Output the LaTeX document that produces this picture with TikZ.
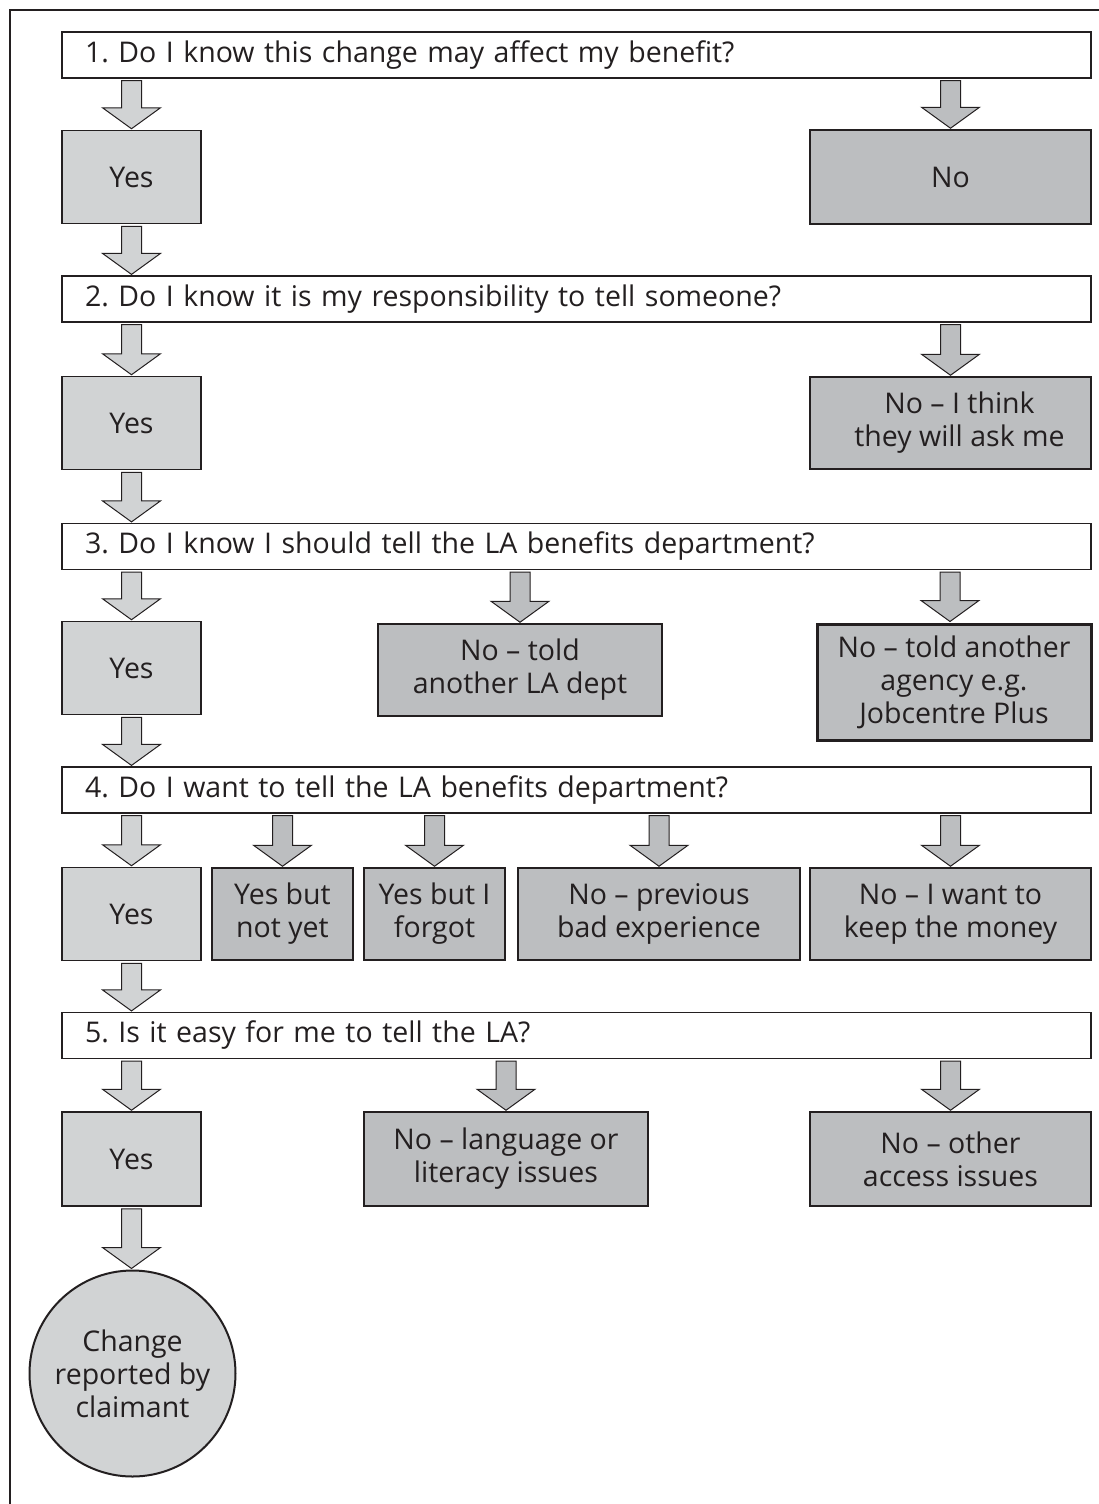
\documentclass[tikz,border=0pt]{standalone}
\usepackage{fontspec}
\setmainfont{Open Sans}
\usetikzlibrary{calc}
\frenchspacing
\definecolor{lightbox}{HTML}{D1D3D4}
\definecolor{darkbox}{HTML}{BCBEC0}
\definecolor{outline}{HTML}{231F20}
\tikzset{
    my-question-box/.style={
        draw=outline, line width=1.2pt, fill=white, minimum width=1029pt, minimum height=46pt,
        text width=983pt, inner xsep=23pt, inner ysep=0pt, align=left
    },
    my-yes-box/.style={
        draw=outline, line width=1.5pt, fill=lightbox, minimum width=139pt, minimum height=93pt,
        align=center, inner sep=0pt
    },
    my-no-box/.style={
        draw=outline, line width=1.5pt, fill=darkbox, minimum height=92pt, align=center, inner sep=0pt
    },
    my-end-circle/.style={
        circle, draw=outline, line width=2pt, fill=lightbox, minimum size=206pt, align=center, inner sep=0pt
    },
    my-arrow-light/.style={
        draw=outline, line width=1pt, fill=lightbox
    },
    my-arrow-dark/.style={
        draw=outline, line width=1pt, fill=darkbox
    },
}
% block arrow from one anchor down to another
\newcommand{\flowarrow}[3][my-arrow-dark]{%
    \path[#1] let \p1=($(#2)+(0,2)$), \p2=($(#3)+(0,-1)$) in
        (\x1-10pt,\y1) -- (\x1+10pt,\y1) -- (\x1+10pt,\y2+21pt) -- (\x1+29pt,\y2+21pt)
        -- (\x1,\y2) -- (\x1-29pt,\y2+21pt) -- (\x1-10pt,\y2+21pt) -- cycle;}

\begin{document}
\begin{tikzpicture}[x=1pt, y=-1pt, font=\fontsize{28.5}{33}\selectfont, text=outline]

        \useasboundingbox (0,0) rectangle (1099,1504);

        % OUTER FRAME
        \draw[outline, line width=2.5pt] (10,1504) -- (10,10) -- (1099,10);

        % QUESTION 1 ----------------------------------------------------------------------------
        \node[my-question-box] (Q1)   at (576.5,55)  {1. Do I know this change may affect my benefit?};
        \node[my-yes-box]      (YES1) at (131.5,177) {Yes};
        \node[my-no-box, minimum width=281pt, minimum height=94pt] (NO1) at (950.5,177) {No};
        \flowarrow[my-arrow-light]{Q1.south -| YES1.north}{YES1.north}
        \flowarrow{Q1.south -| NO1.north}{NO1.north}

        % QUESTION 2 ----------------------------------------------------------------------------
        \node[my-question-box] (Q2)   at (576.5,299) {2. Do I know it is my responsibility to tell someone?};
        \node[my-yes-box]      (YES2) at (131.5,423) {Yes};
        \node[my-no-box, minimum width=281pt] (NO2) at (950.5,423) {\hspace{18pt}No -- I think\\\hspace{18pt}they will ask me};
        \flowarrow[my-arrow-light]{YES1.south}{YES1.south |- Q2.north}
        \flowarrow[my-arrow-light]{Q2.south -| YES2.north}{YES2.north}
        \flowarrow{Q2.south -| NO2.north}{NO2.north}

        % QUESTION 3 ----------------------------------------------------------------------------
        \node[my-question-box] (Q3)     at (576.5,546.5) {3. Do I know I should tell the LA benefits department?};
        \node[my-yes-box]      (YES3)   at (131.5,668)   {Yes};
        \node[my-no-box, minimum width=284pt] (NO3A) at (520,670) {No -- told\\another LA dept};
        \node[my-no-box, minimum width=274pt, minimum height=116pt, line width=3pt] (NO3B) at (954,682)
            {No -- told another\\agency e.g.\\Jobcentre Plus};
        \flowarrow[my-arrow-light]{YES2.south}{YES2.south |- Q3.north}
        \flowarrow[my-arrow-light]{Q3.south -| YES3.north}{YES3.north}
        \flowarrow{Q3.south -| NO3A.north}{NO3A.north}
        \flowarrow{$(Q3.south -| NO3B.north)+(-4,0)$}{$(NO3B.north)+(-4,0)$}

        % QUESTION 4 ----------------------------------------------------------------------------
        \node[my-question-box] (Q4)     at (576.5,790)  {4. Do I want to tell the LA benefits department?};
        \node[my-yes-box]      (YES4)   at (131.5,914)  {Yes};
        \node[my-no-box, minimum width=141pt] (YES4A) at (282.5,914) {Yes but\\not yet};
        \node[my-no-box, minimum width=141pt] (YES4B) at (434.5,914) {Yes but I\\forgot};
        \node[my-no-box, minimum width=282pt] (NO4A)  at (659,914)   {No -- previous\\bad experience};
        \node[my-no-box, minimum width=281pt] (NO4B)  at (950.5,914) {No -- I want to\\keep the money};
        \flowarrow[my-arrow-light]{YES3.south}{YES3.south |- Q4.north}
        \flowarrow[my-arrow-light]{Q4.south -| YES4.north}{YES4.north}
        \flowarrow{Q4.south -| YES4A.north}{YES4A.north}
        \flowarrow{Q4.south -| YES4B.north}{YES4B.north}
        \flowarrow{Q4.south -| NO4A.north}{NO4A.north}
        \flowarrow{Q4.south -| NO4B.north}{NO4B.north}

        % QUESTION 5 ----------------------------------------------------------------------------
        \node[my-question-box] (Q5)    at (576.5,1035.5) {5. Is it easy for me to tell the LA?};
        \node[my-yes-box, minimum height=94pt] (YES5) at (131.5,1159) {Yes};
        \node[my-no-box, minimum width=284pt, minimum height=94pt] (NO5A) at (506,1159)   {No -- language or\\literacy issues};
        \node[my-no-box, minimum width=281pt, minimum height=94pt] (NO5B) at (950.5,1159) {No -- other\\access issues};
        \flowarrow[my-arrow-light]{YES4.south}{YES4.south |- Q5.north}
        \flowarrow[my-arrow-light]{Q5.south -| YES5.north}{YES5.north}
        \flowarrow{Q5.south -| NO5A.north}{NO5A.north}
        \flowarrow{Q5.south -| NO5B.north}{NO5B.north}

        % OUTCOME -------------------------------------------------------------------------------
        \node[my-end-circle] (END) at (132.5,1373.5) {Change\\reported by\\claimant};
        \flowarrow[my-arrow-light]{YES5.south}{YES5.south |- END.north}

\end{tikzpicture}
\end{document}
